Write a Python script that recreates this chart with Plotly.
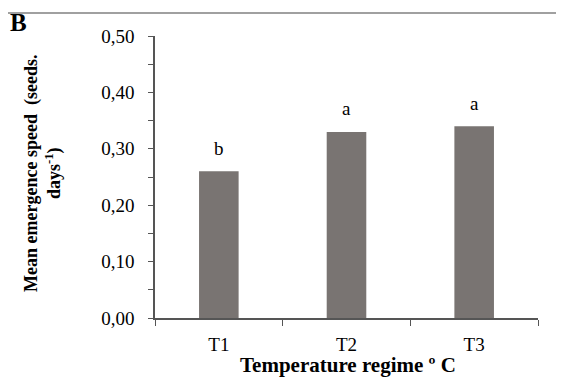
import plotly.graph_objects as go

categories = ["T1", "T2", "T3"]
values = [0.26, 0.33, 0.34]
letters = ["b", "a", "a"]
y_ticks = [0, 0.1, 0.2, 0.3, 0.4, 0.5]
y_ticklabels = ["0,00", "0,10", "0,20", "0,30", "0,40", "0,50"]

FONT = "Liberation Serif"
OFF = 8  # page body margin offset
W, H = 564, 381
# target page pixel positions of the plot area
PL, PR, PT, PB = 155, 538, 36, 318
L = PL - OFF
T = PT - OFF
R = W - (PR - OFF)
B = H - (PB - OFF)
pw = PR - PL
ph = PB - PT

def px_x(p):
    return (p - PL) / pw

def px_y(p):
    return (PB - p) / ph

fig = go.Figure()
fig.add_trace(go.Bar(x=categories, y=values, marker=dict(color="#797472", line=dict(width=0)),
                     width=0.31))

for c, v, s in zip(categories, values, letters):
    fig.add_annotation(x=c, y=v, text=s, showarrow=False, yshift=23, yanchor="middle",
                       font=dict(family=FONT, size=19, color="black"))

fig.add_annotation(xref="paper", yref="paper", x=px_x(348), y=px_y(365), xanchor="center", yanchor="middle",
                   text="<b>Temperature regime º C</b>",
                   showarrow=False, font=dict(family=FONT, size=21, color="black"))
fig.add_annotation(xref="paper", yref="paper", x=px_x(43), y=px_y(174), xanchor="center", yanchor="middle",
                   text="<b>Mean emergence speed  (seeds.<br>days<sup>-1</sup>)</b>", textangle=-90,
                   showarrow=False, font=dict(family=FONT, size=18, color="black"))
fig.add_annotation(xref="paper", yref="paper", x=px_x(18), y=px_y(23), xanchor="center", yanchor="middle",
                   text="<b>B</b>", showarrow=False, font=dict(family=FONT, size=25, color="black"))
fig.add_shape(type="line", xref="paper", yref="paper", x0=px_x(-10), x1=px_x(574), y0=px_y(13), y1=px_y(13),
              line=dict(color="#a0a0a0", width=2))

fig.update_layout(
    width=W, height=H, margin=dict(l=L, r=R, t=T, b=B),
    plot_bgcolor="white", paper_bgcolor="white", showlegend=False,
    separators=", ",
    font=dict(family=FONT, size=16, color="black"),
    xaxis=dict(range=[-0.5, 2.5], showline=True, linecolor="#555", linewidth=1.5,
               ticks="outside", ticklen=6, tickcolor="#555", tickson="boundaries",
               minor=dict(ticks="outside", ticklen=6, tickcolor="#555", dtick=0.5, tick0=0, showgrid=False),
               tickfont=dict(family=FONT, size=19), ticklabelstandoff=8),
    yaxis=dict(range=[0, 0.5], showline=True, linecolor="#555", linewidth=1.5, showgrid=False,
               tickvals=y_ticks, ticktext=y_ticklabels, ticks="outside", ticklen=5, tickcolor="#555",
               minor=dict(ticks="outside", ticklen=5, tickcolor="#555", dtick=0.05, showgrid=False),
               tickfont=dict(family=FONT, size=19), ticklabelstandoff=10, zeroline=False),
)

fig.write_html("out.html")
